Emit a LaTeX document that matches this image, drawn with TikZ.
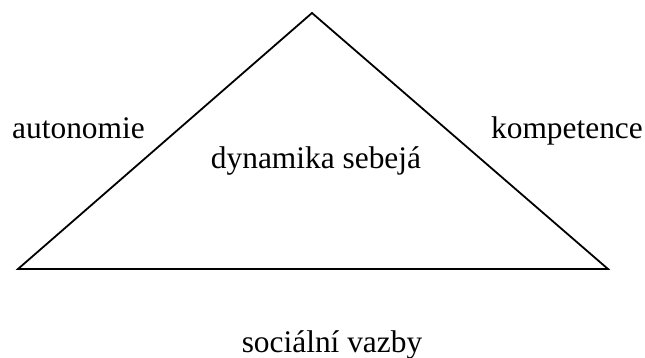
\documentclass[tikz,border=0pt]{standalone}
\usepackage{fontspec}
\setmainfont{Liberation Serif}
\begin{document}
\begin{tikzpicture}[x=0.5pt,y=-0.5pt,
  label text/.style={font=\fontsize{15.7pt}{18pt}\selectfont, inner sep=0pt, anchor=base}]
  \useasboundingbox (0,0) rectangle (645,358);
  % Triangle
  \coordinate (top) at (312,13);
  \coordinate (left) at (18,269);
  \coordinate (right) at (608,269);
  \draw[line width=0.9pt, line join=miter] (left) -- (top) -- (right) -- cycle;

  % Labels
  \node[label text] (auto) at (78.5,139) {autonomie};
  \node[label text] (komp) at (567,139) {kompetence};
  \node[label text] (dyn) at (316,169) {dynamika sebejá};
  \node[label text] (soc) at (332,353) {sociální vazby};
\end{tikzpicture}
\end{document}
